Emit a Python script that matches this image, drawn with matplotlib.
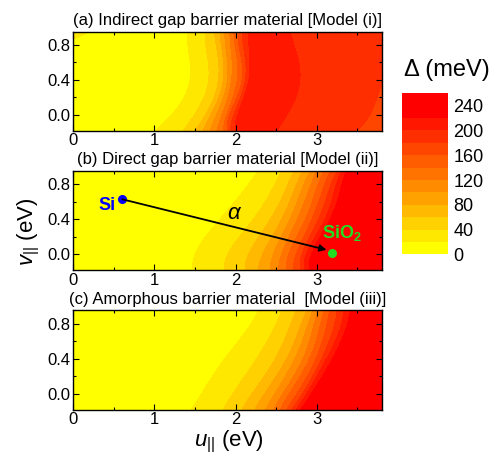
import numpy as np
import matplotlib.pyplot as plt
from matplotlib.ticker import MultipleLocator

plt.rcParams['font.family'] = ['Liberation Sans', 'DejaVu Sans']
plt.rcParams['mathtext.fontset'] = 'custom'
plt.rcParams['mathtext.rm'] = 'Liberation Sans'
plt.rcParams['mathtext.it'] = 'Liberation Sans:italic'
plt.rcParams['mathtext.bf'] = 'Liberation Sans:bold'

# colour levels of Delta (meV)
levels = list(range(0, 261, 20))
cb_ticks = [0, 40, 80, 120, 160, 200, 240]

# rows (v, eV) where the contour crossings were read, bottom -> top
v_rows = [-0.18, 0.1, 0.4, 0.7, 0.95]
cross_levels = [20, 40, 60, 80, 100, 120, 140, 160, 180, 200, 220]

# (a) u where Delta rises through 20..200, then falls back through 200, 180
a_rise = [
    [1.01, 1.36, 1.50, 1.60, 1.69, 1.77, 1.85, 1.90, 1.94, 1.99],
    [1.30, 1.56, 1.69, 1.75, 1.81, 1.87, 1.93, 1.97, 2.02, 2.06],
    [1.44, 1.67, 1.79, 1.85, 1.90, 1.95, 2.02, 2.08, 2.12, 2.16],
    [1.43, 1.65, 1.78, 1.84, 1.89, 1.95, 2.01, 2.06, 2.11, 2.17],
    [1.41, 1.63, 1.74, 1.81, 1.87, 1.93, 1.98, 2.04, 2.09, 2.16],
]
a_fall = [[2.51, 3.49], [2.69, 3.70], [2.79, 3.82], [2.75, 3.95], [2.67, 3.95]]
a_edge = [2, 2, 2, 8, 26]   # Delta at u = 0
a_peak = 210

# (b) u where Delta rises through 20..220
b_rise = [
    [1.48, 1.87, 2.12, 2.28, 2.43, 2.53, 2.63, 2.71, 2.80, 2.86, 2.92],
    [1.56, 1.97, 2.22, 2.39, 2.51, 2.61, 2.70, 2.79, 2.86, 2.92, 2.98],
    [1.81, 2.22, 2.43, 2.57, 2.67, 2.76, 2.86, 2.94, 3.02, 3.10, 3.16],
    [2.08, 2.43, 2.60, 2.71, 2.80, 2.89, 2.98, 3.06, 3.14, 3.21, 3.28],
    [2.28, 2.57, 2.72, 2.83, 2.92, 3.00, 3.09, 3.17, 3.25, 3.31, 3.36],
]

# (c) u where Delta rises through 20..220
c_rise = [
    [1.46, 1.85, 2.08, 2.24, 2.37, 2.47, 2.55, 2.63, 2.69, 2.75, 2.80],
    [1.65, 2.04, 2.28, 2.43, 2.55, 2.65, 2.73, 2.82, 2.89, 2.94, 3.00],
    [1.87, 2.26, 2.49, 2.63, 2.73, 2.83, 2.91, 2.99, 3.06, 3.12, 3.19],
    [2.12, 2.45, 2.64, 2.77, 2.86, 2.94, 3.02, 3.10, 3.19, 3.27, 3.34],
    [2.28, 2.57, 2.75, 2.88, 2.95, 3.02, 3.09, 3.16, 3.25, 3.33, 3.41],
]

titles = ["(a) Indirect gap barrier material [Model (i)]",
          "(b) Direct gap barrier material [Model (ii)]",
          "(c) Amorphous barrier material  [Model (iii)]"]

si_point = (0.607, 0.627)
sio2_point = (3.19, 0.011)

u = np.linspace(0, 3.8, 500)
v = np.linspace(-0.18, 0.95, 250)


def grid_from_rows(knots):
    kx = np.array([k[0] for k in knots], dtype=float)
    kz = np.array([k[1] for k in knots], dtype=float)
    # carry every crossing smoothly from row to row
    cx = [np.polyfit(v_rows, kx[:, j], 4) for j in range(kx.shape[1])]
    Z = np.empty((len(v), len(u)))
    for i, vv in enumerate(v):
        xs = np.array([np.polyval(c, vv) for c in cx])
        xs = np.maximum.accumulate(xs + 1e-4 * np.arange(len(xs)))
        zs = [np.interp(vv, v_rows, kz[:, j]) for j in range(kz.shape[1])]
        Z[i] = np.interp(u, xs, zs)
    return Z


knots_a = []
for r, rise in enumerate(a_rise):
    kx = [0, 0.7] + rise + [(rise[-1] + a_fall[r][0]) / 2] + a_fall[r] + [4.4]
    kz = [a_edge[r], 4] + cross_levels[:10] + [a_peak, 200, 180, 165]
    knots_a.append((kx, kz))
knots_b = [([0] + rise + [4.0], [2] + cross_levels + [240]) for rise in b_rise]
knots_c = [([0] + rise + [4.0], [2] + cross_levels + [240]) for rise in c_rise]
fields = [grid_from_rows(knots_a), grid_from_rows(knots_b), grid_from_rows(knots_c)]

green = list(np.linspace(255, 0, 12)) + [0]
colors = [(1.0, g / 255, 0.0) for g in green]

fig = plt.figure(figsize=(4.98, 4.55), dpi=100)
bottoms = [0.7127, 0.4066, 0.1000]
axs = []
for i in range(3):
    ax = fig.add_axes([0.1466, bottoms[i], 0.620, 0.2176])
    cs = ax.contourf(u, v, fields[i], levels=levels, colors=colors)
    ax.set_xlim(0, 3.8)
    ax.set_ylim(-0.18, 0.95)
    ax.set_xticks([0, 1, 2, 3])
    ax.set_yticks([0.0, 0.4, 0.8])
    ax.xaxis.set_minor_locator(MultipleLocator(0.5))
    ax.yaxis.set_minor_locator(MultipleLocator(0.2))
    ax.tick_params(which='both', direction='in', top=True, right=True,
                   labelsize=12, pad=2, width=0.8)
    ax.tick_params(which='major', length=4)
    ax.tick_params(which='minor', length=2.5)
    for s in ax.spines.values():
        s.set_linewidth(1.0)
    ax.set_title(titles[i], fontsize=12, pad=5)
    axs.append(ax)

ax = axs[1]
ax.annotate('', xy=(3.12, 0.05), xytext=si_point,
            arrowprops=dict(arrowstyle='-|>', color='k', lw=1.3,
                            mutation_scale=10, shrinkA=0, shrinkB=0))
ax.plot(*si_point, 'o', color='#0000ff', ms=5.5)
ax.plot(*sio2_point, 'o', color='#22dd22', ms=5.5)
ax.text(0.414, 0.56, 'Si', color='#0000ff', fontsize=13, fontweight='bold',
        ha='center', va='center')
ax.text(3.31, 0.18, r'$\mathbf{SiO_2}$', color='#22dd22', fontsize=13,
        ha='center', va='baseline')
ax.text(1.995, 0.47, r'$\alpha$', fontsize=16, ha='center', va='center')

fig.text(0.46, 0.0198, r'$u_{||}$ (eV)', fontsize=16, ha='center', va='baseline')
fig.text(0.058, 0.49, r'$v_{||}$ (eV)', fontsize=16, rotation=90,
         ha='center', va='center')

cax = fig.add_axes([0.8072, 0.4411, 0.0924, 0.3538])
cb = fig.colorbar(cs, cax=cax, ticks=cb_ticks)
cb.outline.set_visible(False)
cax.tick_params(length=0, labelsize=13, pad=4)
fig.text(0.898, 0.846, 'Δ (meV)', fontsize=17, ha='center', va='center')

fig.savefig('out.png', dpi=100)
